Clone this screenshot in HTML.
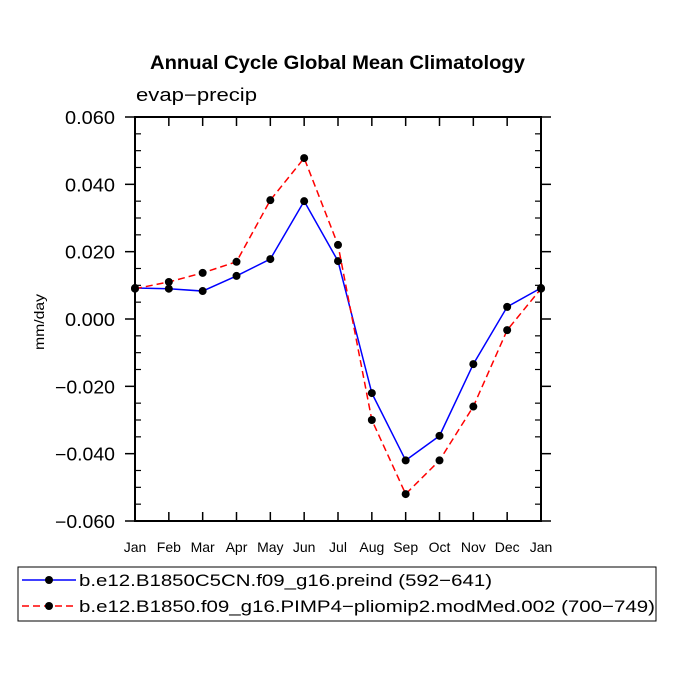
<!DOCTYPE html>
<html><head><meta charset="utf-8"><style>
html,body{margin:0;padding:0;background:#fff;width:675px;height:675px;overflow:hidden}
svg text{font-family:"Liberation Sans",sans-serif}
</style></head><body>
<svg id="chart" width="675" height="675" xmlns="http://www.w3.org/2000/svg">
<text x="150" y="69" font-size="19" font-weight="bold" textLength="375" lengthAdjust="spacingAndGlyphs">Annual Cycle Global Mean Climatology</text>
<text x="136" y="101" font-size="18" textLength="121" lengthAdjust="spacingAndGlyphs">evap−precip</text>
<text transform="translate(44,322) rotate(-90)" text-anchor="middle" font-size="14" textLength="56" lengthAdjust="spacingAndGlyphs">mm/day</text>
<g id="axes"></g>
<g id="series"></g>
<g>
<rect x="18" y="567" width="638" height="54" fill="none" stroke="#000" stroke-width="1"/>
<g>
<line x1="22" y1="580" x2="76" y2="580" stroke="#0000ff" stroke-width="1.5"/>
<circle cx="49" cy="580" r="4" fill="#000"/>
<text x="79" y="586" font-size="17" textLength="413" lengthAdjust="spacingAndGlyphs">b.e12.B1850C5CN.f09_g16.preind (592−641)</text>
</g>
<g>
<line x1="22" y1="606" x2="76" y2="606" stroke="#ff0000" stroke-width="1.5" stroke-dasharray="7,4"/>
<circle cx="49" cy="606" r="4" fill="#000"/>
<text x="79" y="612" font-size="17" textLength="576" lengthAdjust="spacingAndGlyphs">b.e12.B1850.f09_g16.PIMP4−pliomip2.modMed.002 (700−749)</text>
</g>
</g>
</svg>
<script>
const months=["Jan","Feb","Mar","Apr","May","Jun","Jul","Aug","Sep","Oct","Nov","Dec","Jan"];
const blueValues=[0.0092,0.009,0.0083,0.0128,0.0178,0.035,0.0172,-0.022,-0.042,-0.0347,-0.0134,0.0036,0.0092];
const redValues=[0.009,0.011,0.0137,0.017,0.0353,0.0478,0.022,-0.030,-0.052,-0.042,-0.026,-0.0033,0.009];
const yTickValues=[0.06,0.04,0.02,0,-0.02,-0.04,-0.06];
const yTickLabels=["0.060","0.040","0.020","0.000","−0.020","−0.040","−0.060"];
const NS="http://www.w3.org/2000/svg";
const L=135,R=541,T=117,B=521,yMin=-0.06,yMax=0.06;
const xs=i=>L+(R-L)*i/(months.length-1);
const ys=v=>B-(v-yMin)/(yMax-yMin)*(B-T);
function mk(tag,attrs,parent){const e=document.createElementNS(NS,tag);for(const k in attrs)e.setAttribute(k,attrs[k]);parent.appendChild(e);return e;}
const ax=document.getElementById('axes');
const frame=mk('rect',{x:L,y:T,width:R-L,height:B-T,fill:'none',stroke:'#000','stroke-width':2},ax);


for(let v=-0.06;v<=0.0601;v+=0.005){
  const y=ys(v);const major=Math.abs(Math.round(v*1000)%20)===0;
  if(major){mk('line',{x1:L-10,y1:y,x2:L,y2:y,stroke:'#000','stroke-width':1.5},ax);mk('line',{x1:R,y1:y,x2:R+10,y2:y,stroke:'#000','stroke-width':1.5},ax);}
  else{mk('line',{x1:L,y1:y,x2:L+6,y2:y,stroke:'#000','stroke-width':1.2},ax);mk('line',{x1:R-6,y1:y,x2:R,y2:y,stroke:'#000','stroke-width':1.2},ax);}
}
yTickValues.forEach((v,i)=>{
  const lab=yTickLabels[i];
  const t=mk('text',{x:115,y:ys(v)+7,'text-anchor':'end','font-size':18,textLength:lab.length>5?60:50,lengthAdjust:'spacingAndGlyphs'},ax);
  t.textContent=lab;
  
  
});
months.forEach((m,i)=>{
  const x=xs(i);
  mk('line',{x1:x,y1:T,x2:x,y2:T+9,stroke:'#000','stroke-width':1.5},ax);
  mk('line',{x1:x,y1:B-9,x2:x,y2:B,stroke:'#000','stroke-width':1.5},ax);
  const t=mk('text',{x:x,y:552,'text-anchor':'middle','font-size':14},ax);
  t.textContent=m;
  
  
});
const sg=document.getElementById('series');
function series(vals,color,dash,name){
  const g=mk('g',{},sg);
  
  
  const a={points:vals.map((v,i)=>xs(i)+','+ys(v)).join(' '),fill:'none',stroke:color,'stroke-width':1.5};
  if(dash)a['stroke-dasharray']=dash;
  mk('polyline',a,g);
  vals.forEach((v,i)=>{const c=mk('circle',{cx:xs(i),cy:ys(v),r:4,fill:'#000'},g);
    
    });
}
series(blueValues,'#0000ff',null,'series-preind');
series(redValues,'#ff0000','7,4','series-pliomip2');
</script>
</body></html>
